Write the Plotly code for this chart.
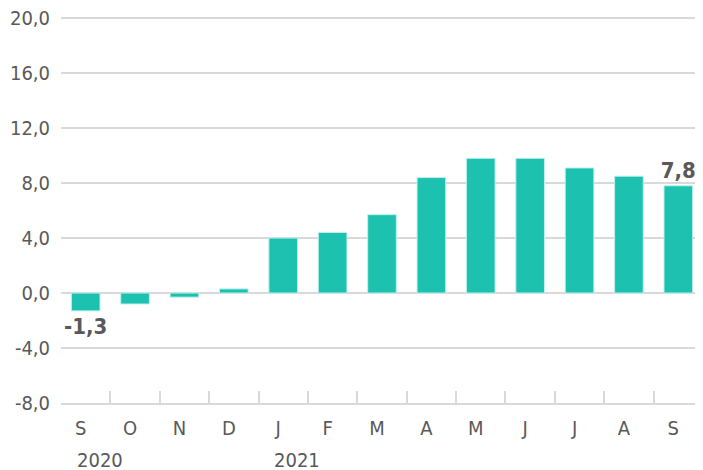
import plotly.graph_objects as go

months = ["S", "O", "N", "D", "J", "F", "M", "A", "M", "J", "J", "A", "S"]
values = [-1.3, -0.8, -0.3, 0.3, 4.0, 4.4, 5.7, 8.4, 9.8, 9.8, 9.1, 8.5, 7.8]
labeled_idx = [0, 12]
years = ["2020", "2021"]
year_idx = [0, 4]
y_ticks = [-8, -4, 0, 4, 8, 12, 16, 20]

x = list(range(len(months)))
text = [(f"{v:.1f}".replace(".", ",") if i in labeled_idx else "") for i, v in enumerate(values)]
y_ticktext = [f"{v:.1f}".replace(".", ",") for v in y_ticks]

FONT = "DejaVu Sans Condensed, Liberation Sans Narrow, sans-serif"
GREY = "#595959"
LINE = "#D9D9D9"

fig = go.Figure()
fig.add_trace(go.Bar(
    x=x, y=values, text=text, textposition="outside", constraintext="none",
    textfont=dict(family=FONT, size=22, color=GREY, weight="bold"),
    marker=dict(color="#1DC1B0", line=dict(color="#BFF0EA", width=1)),
    width=0.58, cliponaxis=False,
))

for yi, idx in zip(years, year_idx):
    fig.add_annotation(x=idx, y=0, xref="x", yref="paper", yshift=-44, xshift=-10,
                       text=yi, showarrow=False, yanchor="top", xanchor="left",
                       borderpad=0,
                       font=dict(family=FONT, size=20, color=GREY))

# the page body has an 8px margin, so the figure is sized/placed to compensate
fig.update_layout(
    width=695, height=462,
    margin=dict(l=53, r=0, t=9, b=67, autoexpand=False),
    plot_bgcolor="white", paper_bgcolor="white",
    showlegend=False,
    font=dict(family=FONT, size=20, color=GREY),
    xaxis=dict(
        type="category",
        tickmode="array", tickvals=x, ticktext=months,
        range=[-0.5, len(months) - 0.5],
        showgrid=False, showline=True, linecolor=LINE, linewidth=2,
        ticks="inside", ticklen=12, tickcolor=LINE, tickwidth=1.5,
        tickson="boundaries", ticklabelshift=-5, ticklabelstandoff=6,
        tickfont=dict(family=FONT, size=20, color=GREY),
        zeroline=False, automargin=False,
    ),
    yaxis=dict(
        range=[-8, 20.08], tickmode="array", tickvals=y_ticks, ticktext=y_ticktext,
        showgrid=True, gridcolor=LINE, gridwidth=1.5,
        zeroline=False, showline=False, ticks="", ticklabelstandoff=10,
        ticklabeloverflow="allow",
        tickfont=dict(family=FONT, size=20, color=GREY),
        automargin=False,
    ),
)

fig.write_html("out.html")
